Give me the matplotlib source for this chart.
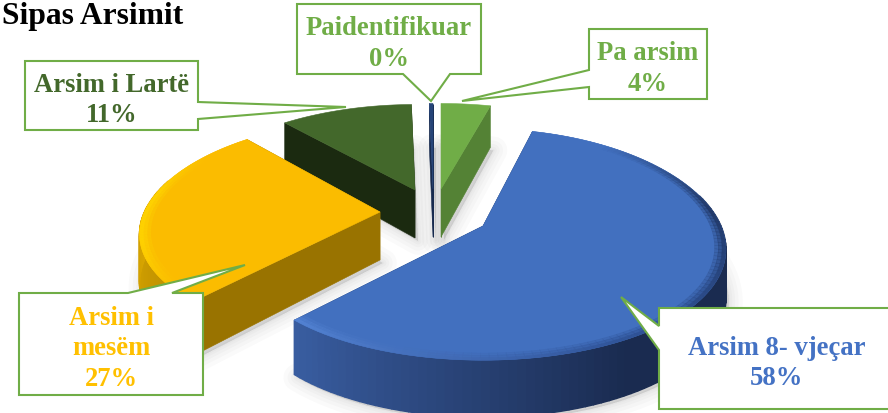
import numpy as np
import matplotlib
matplotlib.use("Agg")
import matplotlib.pyplot as plt
from matplotlib.colors import to_rgb
from matplotlib.patches import Polygon

# Chart data (clockwise from 12 o'clock)
labels = ["Pa arsim", "Arsim 8- vjeçar", "Arsim i\nmesëm", "Arsim i Lartë", "Paidentifikuar"]
values = [4, 58, 27, 11, 0.3]
title = "Sipas Arsimit"

# Colours
top_colors = ["#70ad47", "#4270bf", "#fbbc00", "#43682b", "#264478"]
side_colors = ["#548235", "#1f3864", "#997300", "#1b2a10", "#172a4e"]
text_colors = ["#70ad47", "#4472c4", "#ffc000", "#43682b", "#70ad47"]
border = "#70ad47"

# Where each exploded slice sits on the page (pixels)
apex_x = [441, 483, 380, 415, 433]
apex_y = [190, 227, 213, 191, 190]
x_scale = [1, 1, 0.99, 0.97, 1]
y_scale = [0.88, 1, 0.95, 0.88, 0.88]

# Label boxes: x0, y0, x1, y1 and pointer as (base a, base b, tip)
boxes = [(589, 30, 707, 100), (659, 309, 890, 410), (19, 294, 203, 396), (25, 62, 198, 131), (297, 5, 481, 75)]
pointers = [
    [(589, 71), (462, 102), (589, 88)],
    [(659, 327), (621, 298), (659, 351)],
    [(128, 294), (245, 266), (172, 294)],
    [(198, 103), (346, 108), (198, 120)],
    [(403, 75), (431, 102), (450, 75)],
]

# Fake perspective of the tilted disc
RX, RY = 238, 112.7
KX, KY = 0.2, 0.16
DEPTH = 48


def project(i, th, r=1.0):
    u = r * np.sin(th)
    v = r * np.cos(th)
    x = apex_x[i] + x_scale[i] * RX * u / (1 + KX * v)
    y = apex_y[i] - y_scale[i] * RY * v / (1 + KY * v)
    return x, y


def depth_at(th, r=1.0):
    return DEPTH / (1 + KY * r * np.cos(th))


def mix(a, b, t):
    a, b = np.array(to_rgb(a)), np.array(to_rgb(b))
    return tuple(a + (b - a) * t)


def side_shade(i, th):
    # lighter towards the left of the front rim
    d = np.degrees(th)
    if i == 1:
        t = np.clip((d - 150) / 73, 0, 1)
        return mix("#1a2b50", "#3a5fa3", t)
    if i == 2:
        return mix("#bd8f00", "#d9a600", np.clip((d - 223) / 50, 0, 1))
    return side_colors[i]


def rim_shade(i, th):
    d = np.degrees(th)
    if i == 1:
        if d < 80:
            return mix("#4270bf", "#1f3460", np.clip((d - 35) / 45, 0, 1))
        if d < 150:
            return mix("#1f3460", "#2f5296", (d - 80) / 70)
        return mix("#2f5296", "#5585d6", (d - 150) / 73)
    if i == 2:
        if d > 280:
            return mix("#ffd400", "#fbbc00", np.clip((d - 280) / 25, 0, 1))
        return mix("#fbbc00", "#ffd400", np.clip((d - 225) / 30, 0, 1))
    return top_colors[i]


fig = plt.figure(figsize=(8.88, 4.14), dpi=100)
ax = fig.add_axes([0, 0, 1, 1])
ax.set_xlim(0, 888)
ax.set_ylim(414, 0)
ax.axis("off")

total = sum(values)
edges = np.concatenate([[0], np.cumsum(values)]) / total * 2 * np.pi
draw_order = [4, 3, 0, 2, 1]

# Soft shadows under the slices
for i in range(len(values)):
    th = np.linspace(edges[i], edges[i + 1], 80)
    x, y = project(i, th)
    x = np.append(x, apex_x[i]) + 3
    y = np.append(y + depth_at(th), apex_y[i] + DEPTH) + 3
    for lw in [20, 14, 9, 5, 2]:
        ax.add_patch(Polygon(np.c_[x, y], closed=True, fc="black", ec="black", lw=lw, alpha=0.018,
                             joinstyle="round", zorder=1))

z = 2
for i in draw_order:
    th = np.linspace(edges[i], edges[i + 1], 120)
    x, y = project(i, th)
    d = depth_at(th)

    # cut faces
    for j in [0, -1]:
        face = [(apex_x[i], apex_y[i]), (x[j], y[j]), (x[j], y[j] + d[j]), (apex_x[i], apex_y[i] + DEPTH)]
        ax.add_patch(Polygon(face, closed=True, fc=side_colors[i], ec=side_colors[i], lw=0.4, zorder=z))

    # outer wall, the back part is hidden anyway
    for k in range(len(th) - 1):
        if np.cos(th[k]) > 0.3:
            continue
        quad = [(x[k], y[k]), (x[k + 1], y[k + 1]), (x[k + 1], y[k + 1] + d[k + 1]), (x[k], y[k] + d[k])]
        col = side_shade(i, th[k])
        ax.add_patch(Polygon(quad, closed=True, fc=col, ec=col, lw=1.0, zorder=z + 0.1))

    # top face
    top = np.r_[[(apex_x[i], apex_y[i])], np.c_[x, y]]
    ax.add_patch(Polygon(top, closed=True, fc=top_colors[i], ec=top_colors[i], lw=0.4, zorder=z + 0.2))

    # bevel on the rim
    if i in (1, 2):
        for r0, r1, a in [(0.955, 0.97, 0.25), (0.97, 0.985, 0.55), (0.985, 1.0, 0.9)]:
            for k in range(len(th) - 1):
                x0, y0 = project(i, th[k], r0)
                x1, y1 = project(i, th[k + 1], r0)
                x2, y2 = project(i, th[k + 1], r1)
                x3, y3 = project(i, th[k], r1)
                col = rim_shade(i, th[k])
                ax.add_patch(Polygon([(x0, y0), (x1, y1), (x2, y2), (x3, y3)], closed=True,
                                     fc=col, ec=col, lw=0.3, alpha=a, zorder=z + 0.3))
    z += 1

# Callout boxes
for i in range(len(labels)):
    x0, y0, x1, y1 = boxes[i]
    a, tip, b = pointers[i]
    if a[1] == y0 and b[1] == y0:  # pointer on the top side
        pts = [(x0, y0), a, tip, b, (x1, y0), (x1, y1), (x0, y1)]
    elif a[1] == y1 and b[1] == y1:  # bottom side
        pts = [(x0, y0), (x1, y0), (x1, y1), b, tip, a, (x0, y1)]
    elif a[0] == x1:  # right side
        pts = [(x0, y0), (x1, y0), a, tip, b, (x1, y1), (x0, y1)]
    else:  # left side
        pts = [(x0, y0), (x1, y0), (x1, y1), (x0, y1), b, tip, a]
    ax.add_patch(Polygon(pts, closed=True, fc="white", ec=border, lw=1.5, joinstyle="miter", zorder=20))
    txt = labels[i] + "\n" + str(int(round(values[i]))) + "%"
    cy = (y0 + y1) / 2
    ax.text((x0 + x1) / 2 + (2 if i == 1 else 0), cy + 4, txt, color=text_colors[i], ha="center", va="center",
            family="Liberation Serif", weight="bold", fontsize=19.2, linespacing=1.3, zorder=21)

ax.text(2, 24, title, family="Liberation Serif", weight="bold", fontsize=22.7, color="black", va="baseline", zorder=21)

fig.savefig("out.png", dpi=100)
